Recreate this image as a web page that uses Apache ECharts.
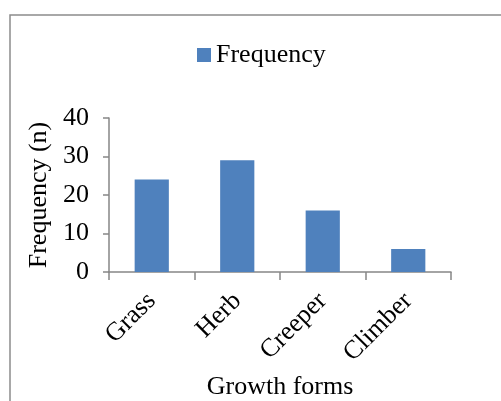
<!DOCTYPE html>
<html>
<head>
<meta charset="utf-8">
<script src="https://cdn.jsdelivr.net/npm/echarts@6/dist/echarts.min.js"></script>
<style>
html,body{margin:0;padding:0;background:#fff;}
#c{width:501px;height:401px;}
</style>
</head>
<body>
<div id="c"></div>
<script>
const categories = ['Grass', 'Herb', 'Creeper', 'Climber'];
const frequency = [24, 29, 16, 6];
const yTicks = [0, 10, 20, 30, 40];

const FONT = '"Liberation Serif", "Times New Roman", serif';
const AXIS_COLOR = '#868686';

const chart = echarts.init(document.getElementById('c'));
chart.setOption({
  animation: false,
  backgroundColor: '#fff',
  graphic: [{
    type: 'rect',
    shape: { x: 10, y: 15, width: 600, height: 500 },
    style: { fill: 'none', stroke: '#8c8c8c', lineWidth: 1.5 },
    silent: true
  }],
  legend: {
    data: ['Frequency'],
    left: 197,
    top: 42,
    padding: 0,
    itemWidth: 14,
    itemHeight: 14,
    icon: 'rect',
    textStyle: { fontFamily: FONT, fontSize: 26, color: '#000' }
  },
  grid: { left: 109, right: 50, top: 118, bottom: 127, containLabel: false },
  xAxis: {
    type: 'category',
    data: categories,
    name: 'Growth forms',
    nameLocation: 'middle',
    nameGap: 102,
    nameTextStyle: { fontFamily: FONT, fontSize: 26, color: '#000' },
    axisLine: { lineStyle: { color: AXIS_COLOR, width: 1.5 } },
    axisTick: { show: true, length: 8, lineStyle: { color: AXIS_COLOR, width: 1.5 } },
    axisLabel: { rotate: 45, margin: 25, fontFamily: FONT, fontSize: 26, color: '#000' }
  },
  yAxis: {
    type: 'value',
    min: yTicks[0],
    max: yTicks[yTicks.length - 1],
    interval: yTicks[1] - yTicks[0],
    name: 'Frequency (n)',
    nameLocation: 'middle',
    nameGap: 47,
    nameTextStyle: { fontFamily: FONT, fontSize: 26, color: '#000' },
    axisLine: { show: true, lineStyle: { color: AXIS_COLOR, width: 1.5 } },
    axisTick: { show: true, length: 6, lineStyle: { color: AXIS_COLOR, width: 1.5 } },
    splitLine: { show: false },
    axisLabel: { margin: 20, fontFamily: FONT, fontSize: 26, color: '#000' }
  },
  series: [{
    name: 'Frequency',
    type: 'bar',
    data: frequency,
    barWidth: '40%',
    itemStyle: { color: '#4F81BD' }
  }]
});
</script>
</body>
</html>
